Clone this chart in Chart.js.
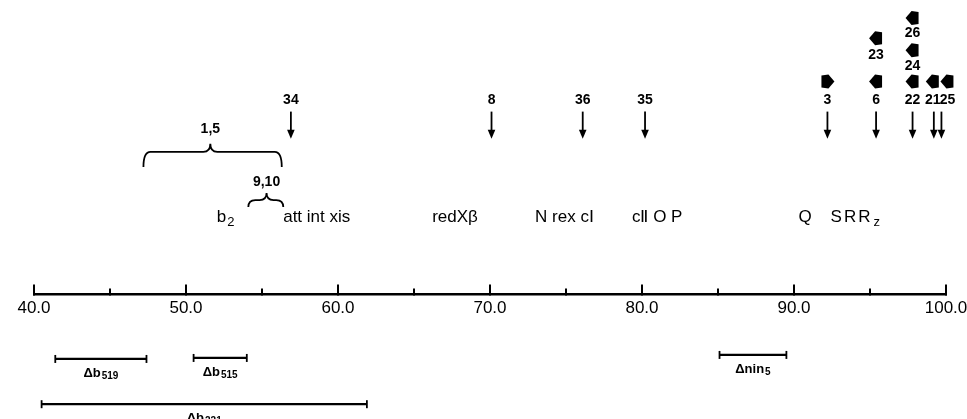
<!DOCTYPE html>
<html><head><meta charset="utf-8">
<script src="https://cdn.jsdelivr.net/npm/chart.js@4/dist/chart.umd.min.js"></script>
<style>html,body{margin:0;padding:0;background:#fff;}</style>
</head><body>
<canvas id="c" width="967" height="419"></canvas>
<script>
// ---------------- DATA (map units) ----------------
const axisMin = 40, axisMax = 100, tickStep = 5, labelStep = 10;
const tickLabels = ["40.0","50.0","60.0","70.0","80.0","90.0","100.0"];

const mutantNames     = ["34","8","36","35","3","6","22","21","25"];
const mutantPositions = [56.9, 70.1, 76.1, 80.2, 92.2, 95.4, 97.8, 99.2, 99.7];

const orientedNames      = ["3","6","22","21","25","24","23","26"];
const orientedPositions  = [92.2, 95.4, 97.8, 99.2, 99.7, 97.8, 95.4, 97.8];
const orientedDirections = [1, -1, -1, -1, -1, -1, -1, -1];   // 1 = right, -1 = left
const orientedTier       = [0, 0, 0, 0, 0, 1, 2, 3];

const braceNames  = ["1,5", "9,10"];
const braceStarts = [47.2, 54.1];
const braceEnds   = [56.3, 56.4];
const braceApex   = [51.6, 55.3];

const geneMain      = ["b", "att int xis", "redXβ", "N rex cⅠ", "cⅡ O P", "Q", "SRR"];
const geneSub       = ["2", "", "", "", "", "", "z"];
const genePositions = [52.6, 58.6, 67.7, 74.9, 81.0, 90.8, 94.1];

const deletionMain   = ["Δb", "Δb", "Δb", "Δnin"];
const deletionSub    = ["519", "515", "221", "5"];
const deletionStarts = [41.4, 50.5, 40.5, 85.1];
const deletionEnds   = [47.4, 54.0, 61.9, 89.5];

// ---------------- STYLE / LAYOUT ----------------
const L = {
  arrowLabelY: 100, arrowTop: 111, arrowBottom: 138,
  tierBlockY: [81, 50, 38, 18], tierLabelY: [null, 66, 55, 33],
  braceTop: [151, 199], braceApexY: [143, 192], braceEndY: [166, 206], braceLabelY: [128, 181],
  geneY: 216,
  deletionRowY: [357, 356, 402, 353], deletionLabelDy: 14, capHalf: 4,
  nudge: {"25": 6, "21": -1}
};
const SANS = '"Liberation Sans", Arial, sans-serif';

const deletionDatasets = deletionMain.map((m, i) => ({
  label: m + deletionSub[i],
  data: [{x: deletionStarts[i], y: L.deletionRowY[i]}, {x: deletionEnds[i], y: L.deletionRowY[i]}],
  showLine: true, borderColor: '#000', borderWidth: 2.2,
  pointRadius: 0, clip: false
}));

function subText(ctx, cx, cy, main, sub, mainFont, subFont, subDy) {
  ctx.font = mainFont; const w1 = ctx.measureText(main).width;
  ctx.font = subFont; const w2 = sub ? ctx.measureText(sub).width + 1 : 0;
  const x0 = cx - (w1 + w2) / 2;
  ctx.textAlign = 'left'; ctx.textBaseline = 'middle';
  ctx.font = mainFont; ctx.fillText(main, x0, cy);
  if (sub) { ctx.font = subFont; ctx.fillText(sub, x0 + w1 + 1, cy + subDy); }
}

const mapPlugin = {
  id: 'geneMap',
  afterDraw(chart) {
    const {ctx, scales: {x, y}} = chart;
    const X = v => x.getPixelForValue(v), Y = v => y.getPixelForValue(v);
    ctx.save();
    ctx.fillStyle = '#000'; ctx.strokeStyle = '#000';
    // axis tick marks (upward)
    const axisY = x.top;
    ctx.lineWidth = 2;
    x.ticks.forEach(t => {
      const major = Math.abs(t.value % labelStep) < 1e-9;
      const px = X(t.value);
      ctx.beginPath(); ctx.moveTo(px, axisY + 1); ctx.lineTo(px, axisY - (major ? 10 : 6)); ctx.stroke();
    });
    // mutation arrows + labels
    ctx.font = 'bold 14px ' + SANS; ctx.textAlign = 'center'; ctx.textBaseline = 'middle';
    mutantNames.forEach((n, i) => {
      const px = X(mutantPositions[i]);
      const nd = L.nudge[n] || 0;
      ctx.fillText(n, px + nd, Y(L.arrowLabelY));
      const yt = Y(L.arrowTop), yb = Y(L.arrowBottom);
      ctx.lineWidth = 1.8;
      ctx.beginPath(); ctx.moveTo(px, yt); ctx.lineTo(px, yb - 6); ctx.stroke();
      ctx.beginPath(); ctx.moveTo(px - 3.8, yb - 9); ctx.lineTo(px + 3.8, yb - 9); ctx.lineTo(px, yb); ctx.closePath(); ctx.fill();
    });
    // oriented (block) arrows
    orientedNames.forEach((n, i) => {
      const nd = L.nudge[n] || 0;
      const cx = X(orientedPositions[i]) + (orientedTier[i] === 0 ? nd : 0);
      const cy = Y(L.tierBlockY[orientedTier[i]]);
      const d = orientedDirections[i];
      ctx.beginPath();
      ctx.moveTo(cx + d * 7, cy);
      ctx.lineTo(cx + d * 1, cy - 7);
      ctx.lineTo(cx - d * 6, cy - 6);
      ctx.lineTo(cx - d * 6, cy + 6);
      ctx.lineTo(cx + d * 1, cy + 7);
      ctx.closePath(); ctx.fill();
      if (orientedTier[i] > 0) {
        ctx.font = 'bold 14px ' + SANS; ctx.textAlign = 'center'; ctx.textBaseline = 'middle';
        ctx.fillText(n, cx, Y(L.tierLabelY[orientedTier[i]]));
      }
    });
    // braces
    braceNames.forEach((n, i) => {
      const x1 = X(braceStarts[i]), x2 = X(braceEnds[i]), xm = X(braceApex[i]);
      const yt = Y(L.braceTop[i]), ya = Y(L.braceApexY[i]), ye = Y(L.braceEndY[i]);
      const r = Math.min(7, (x2 - x1) / 5);
      ctx.lineWidth = 1.8;
      ctx.beginPath();
      ctx.moveTo(x1, ye);
      ctx.quadraticCurveTo(x1, yt, x1 + r, yt);
      ctx.lineTo(xm - r, yt);
      ctx.quadraticCurveTo(xm, yt, xm, ya);
      ctx.quadraticCurveTo(xm, yt, xm + r, yt);
      ctx.lineTo(x2 - r, yt);
      ctx.quadraticCurveTo(x2, yt, x2, ye);
      ctx.stroke();
      ctx.font = 'bold 14px ' + SANS; ctx.textAlign = 'center'; ctx.textBaseline = 'middle';
      ctx.fillText(n, xm, Y(L.braceLabelY[i]));
    });
    // gene labels
    geneMain.forEach((g, i) => {
      ctx.letterSpacing = (g === 'SRR' || g === 'Q') ? '2px' : '0px';
      subText(ctx, X(genePositions[i]), Y(L.geneY), g, geneSub[i], '17px ' + SANS, '13px ' + SANS, 5);
    });
    ctx.letterSpacing = '0px';
    // deletion end caps and labels
    deletionMain.forEach((m, i) => {
      const yr = Y(L.deletionRowY[i]);
      ctx.lineWidth = 1.8;
      [deletionStarts[i], deletionEnds[i]].forEach(v => {
        const px = X(v);
        ctx.beginPath(); ctx.moveTo(px, yr - L.capHalf); ctx.lineTo(px, yr + L.capHalf); ctx.stroke();
      });
      const cx = (X(deletionStarts[i]) + X(deletionEnds[i])) / 2;
      subText(ctx, cx, Y(L.deletionRowY[i] + L.deletionLabelDy), m, deletionSub[i], 'bold 13px ' + SANS, 'bold 10px ' + SANS, 3);
    });
    ctx.restore();
  }
};

new Chart(document.getElementById('c'), {
  type: 'scatter',
  data: { datasets: deletionDatasets },
  options: {
    responsive: false, animation: false, devicePixelRatio: 1,
    layout: { padding: { left: 34, right: 21, top: 0, bottom: 96 } },
    plugins: { legend: { display: false }, tooltip: { enabled: false } },
    scales: {
      x: {
        type: 'linear', min: axisMin, max: axisMax, position: 'bottom',
        afterFit: s => { s.paddingLeft = 0; s.paddingRight = 0; },
        grid: { display: false, drawTicks: false },
        border: { display: true, color: '#000', width: 2.5 },
        ticks: {
          stepSize: tickStep, autoSkip: false, maxRotation: 0, padding: 4, color: '#000',
          font: { family: SANS, size: 17 },
          callback: v => (Math.abs(v % labelStep) < 1e-9) ? tickLabels[Math.round((v - axisMin) / labelStep)] : ''
        }
      },
      y: { type: 'linear', display: false, reverse: true, min: 0, max: 293 }
    }
  },
  plugins: [mapPlugin]
});
</script>
</body></html>
